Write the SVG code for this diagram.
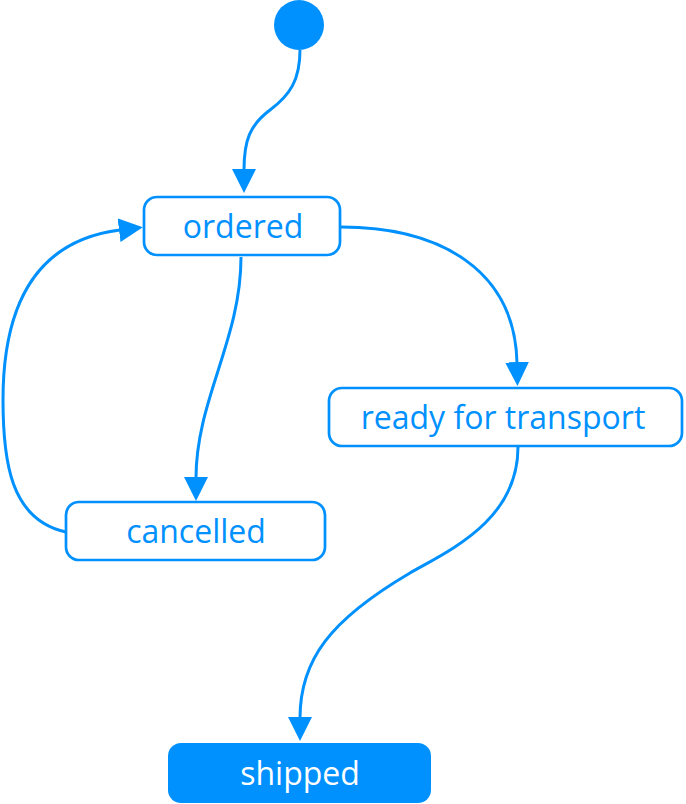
<svg xmlns="http://www.w3.org/2000/svg" width="686" height="804" viewBox="0 0 686 804">
<defs>
<style>
.box{fill:#fff;stroke:#0091ff;stroke-width:2.7}
.lbl{font-family:"Open Sans","Noto Sans",sans-serif;font-size:32px;fill:#0091ff;text-anchor:middle}
.edge{fill:none;stroke:#0091ff;stroke-width:3}
</style>
<marker id="ah" viewBox="0 0 24 24" markerWidth="24" markerHeight="24" refX="1" refY="12" orient="auto" markerUnits="userSpaceOnUse">
<path d="M0,0 L24,12 L0,24 Z" fill="#0091ff"/>
</marker>
</defs>
<g id="connectors">
<path class="edge" d="M300,50 C300,80 290,95 270,110 C250,125 244,140 244,170" marker-end="url(#ah)"/>
<path class="edge" d="M341,227 C440,227 515,270 517,363" marker-end="url(#ah)"/>
<path class="edge" d="M241,257 C241,340 196,400 196,478" marker-end="url(#ah)"/>
<path class="edge" d="M66,532 C10,520 3,460 3,400 C3,300 40,240 120,230" marker-end="url(#ah)"/>
<path class="edge" d="M518,447 C518,520 450,550 410,573 C330,620 300,660 300,718" marker-end="url(#ah)"/>
</g>
<g id="start"><circle cx="299" cy="25" r="25" fill="#0091ff"/></g>
<g id="ordered"><rect class="box" x="144" y="197" width="196" height="58" rx="13"/><text class="lbl" x="243" y="238">ordered</text></g>
<g id="ready"><rect class="box" x="329" y="388" width="353" height="58" rx="13"/><text class="lbl" x="503" y="429">ready for transport</text></g>
<g id="cancelled"><rect class="box" x="66" y="502" width="259" height="58" rx="13"/><text class="lbl" x="196" y="543">cancelled</text></g>
<g id="shipped"><rect x="168" y="743" width="263" height="60" rx="13" fill="#0091ff"/><text class="lbl" x="300" y="785" style="fill:#fff">shipped</text></g>
</svg>
